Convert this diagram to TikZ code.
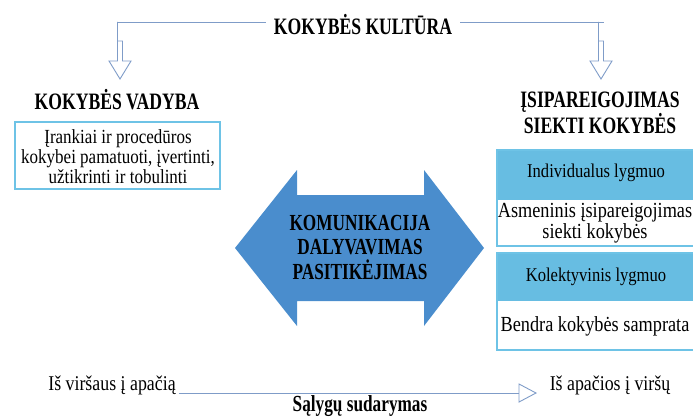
\documentclass[tikz,border=0pt]{standalone}
\usepackage{fontspec}
\setmainfont[FakeStretch=0.85]{Liberation Serif}
\newfontfamily\headfont[FakeStretch=0.75]{Liberation Serif}
\usetikzlibrary{calc}

\definecolor{linkblue}{HTML}{7F9CC8}
\definecolor{boxline}{HTML}{6EC3E6}
\definecolor{lvlblue}{HTML}{67BDE2}
\definecolor{bigblue}{HTML}{4A8DCD}

% hollow arrow pointing down: x, top y, tip y
\def\openarrowdown(#1,#2,#3){\draw[thinline] (#1-2.5,#2) -- (#1-2.5,#3-18) -- (#1-11,#3-18) -- (#1,#3) -- (#1+11,#3-18) -- (#1+2.5,#3-18) -- (#1+2.5,#2+19) -- (#1-2.5,#2+19);}

\tikzset{
	headtxt/.style={font=\headfont\bfseries\fontsize{23.5}{24.5}\selectfont, inner sep=0pt, align=center},
	bodytxt/.style={font=\fontsize{20}{20}\selectfont, inner sep=0pt, align=center},
	thinline/.style={draw=linkblue, line width=0.9pt},
	lvlbox/.style={draw=boxline, line width=1.6pt},
}

\begin{document}
\begin{tikzpicture}[x=1pt,y=-1pt]
			\useasboundingbox (0,0) rectangle (693,417);
			
			%%%%% TOP %%%%%
			\node[headtxt] (kult) at (363,25) {KOKYBĖS KULTŪRA};
			\node[headtxt] (vadyba) at (117,100) {KOKYBĖS VADYBA};
			\node[headtxt] (isip) at (600,113) {ĮSIPAREIGOJIMAS\\SIEKTI KOKYBĖS};
			
			\draw[thinline] (kult.west) ++(-8,-3) -- (117.5,22);
			\draw[thinline] (kult.east) ++(8,-3) -- (603.5,22);
			\openarrowdown(120,22,79)
			\openarrowdown(601,22,79)
			
			%%%%% LEFT BOX %%%%%
			\draw[lvlbox, fill=white] (15,122) rectangle (220,189);
			\node[bodytxt] (irank) at (118,157) {Įrankiai ir procedūros\\kokybei pamatuoti, įvertinti,\\užtikrinti ir tobulinti};
			
			%%%%% DOUBLE ARROW %%%%%
			\fill[bigblue] (235,248) -- (297,170) -- (297,195) -- (424,195) -- (424,170) -- (484,248)
				-- (424,326) -- (424,301) -- (297,301) -- (297,326) -- cycle;
			\node[headtxt, font=\headfont\bfseries\fontsize{23}{24.5}\selectfont] (komun) at (360,247) {KOMUNIKACIJA\\DALYVAVIMAS\\PASITIKĖJIMAS};
			
			%%%%% RIGHT BOXES %%%%%
			\fill[lvlblue] (497,150) rectangle (694,200);
			\draw[lvlbox] (497,150) rectangle (694,246);
			\fill[lvlblue] (497,253) rectangle (694,301);
			\draw[lvlbox] (497,253) rectangle (694,350);
			
			\node[bodytxt, font=\fontsize{19.5}{20}\selectfont] (indiv) at (596,173) {Individualus lygmuo};
			\node[bodytxt, font=\fontsize{21.5}{19}\selectfont] (asmen) at (595,223) {Asmeninis įsipareigojimas\\siekti kokybės};
			\node[bodytxt, font=\fontsize{19.5}{20}\selectfont] (kolekt) at (596,277) {Kolektyvinis lygmuo};
			\node[bodytxt, font=\fontsize{21.5}{20}\selectfont] (bendra) at (595,326) {Bendra kokybės samprata};
			
			%%%%% BOTTOM %%%%%
			\node[bodytxt, font=\fontsize{21}{20}\selectfont] (virsaus) at (112,385) {Iš viršaus į apačią};
			\node[bodytxt, font=\fontsize{21}{20}\selectfont] (apacios) at (610,385) {Iš apačios į viršų};
			\node[headtxt, font=\headfont\bfseries\fontsize{23}{20}\selectfont] (salygu) at (360,406) {Sąlygų sudarymas};
			
			\draw[thinline] (virsaus.east) ++(3,8) -- (519,393);
			\draw[thinline] (519,384) -- (536,393) -- (519,402) -- cycle;
			
		\end{tikzpicture}
\end{document}
